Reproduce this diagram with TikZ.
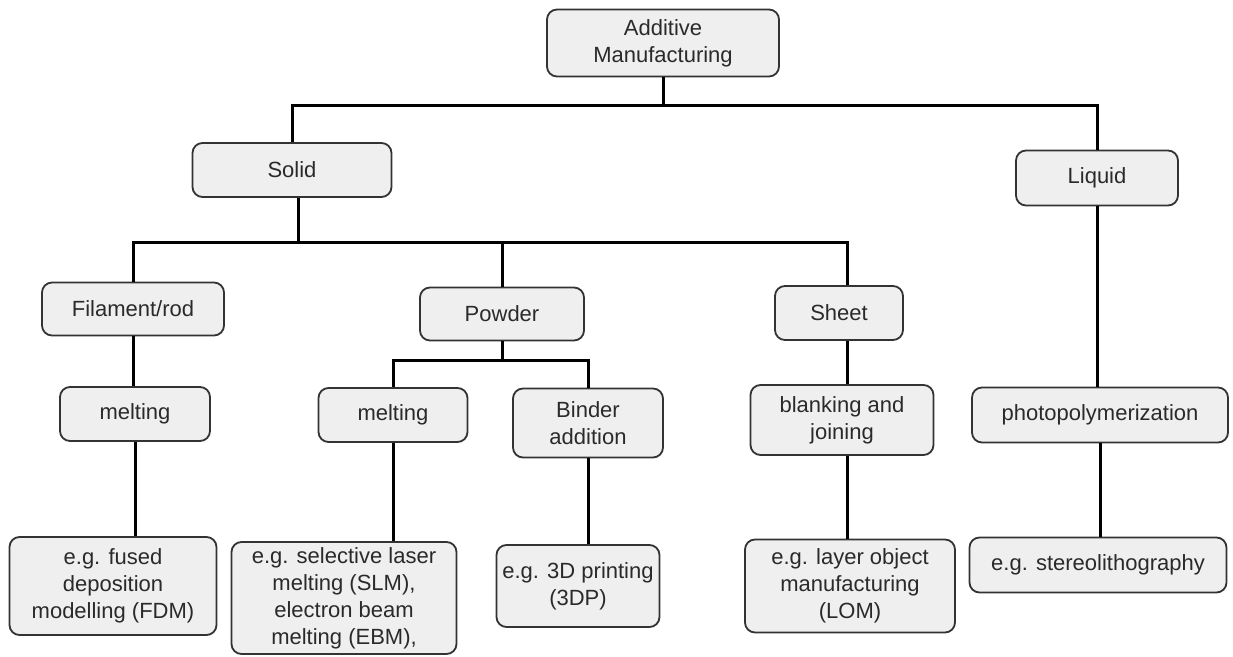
\documentclass[tikz,border=0pt]{standalone}
\usepackage{fontspec}
\setmainfont{Liberation Sans}
\definecolor{boxfill}{HTML}{EFEFEF}
\definecolor{boxline}{HTML}{333333}
\definecolor{txt}{HTML}{2A2A2A}
\begin{document}
\begin{tikzpicture}[x=1pt,y=-1pt,
  bx/.style={draw=boxline,fill=boxfill,line width=1.8pt,rounded corners=10pt,
    inner sep=0pt,align=center,text=txt,font=\fontsize{22}{27}\selectfont},
  con/.style={line width=3pt,black}]
\useasboundingbox (0,0) rectangle (1233,656);
\fill[white] (0,0) rectangle (1233,656);
% nodes
\node[bx,minimum width=232pt,minimum height=67pt] (am) at (663,43) {Additive\\Manufacturing};
\node[bx,minimum width=199pt,minimum height=54pt] (solid) at (292,170) {Solid};
\node[bx,minimum width=162pt,minimum height=55pt] (liquid) at (1097,178) {Liquid};
\node[bx,minimum width=182pt,minimum height=53pt] (fil) at (133,309) {Filament/rod};
\node[bx,minimum width=164pt,minimum height=53pt] (powder) at (502,314) {Powder};
\node[bx,minimum width=128pt,minimum height=54pt] (sheet) at (839,313) {Sheet};
\node[bx,minimum width=150pt,minimum height=54pt] (fmelt) at (135,414) {melting};
\node[bx,minimum width=149pt,minimum height=54pt] (pmelt) at (393,415) {melting};
\node[bx,minimum width=150pt,minimum height=69pt] (binder) at (588,423) {Binder\\addition};
\node[bx,minimum width=183pt,minimum height=70pt] (blank) at (842,420) {blanking and\\joining};
\node[bx,minimum width=256pt,minimum height=55pt] (photo) at (1100,415) {photopolymerization};
\node[bx,minimum width=207pt,minimum height=98pt] (fdm) at (113,586) {e.g. fused\\deposition\\modelling (FDM)};
\node[bx,minimum width=225pt,minimum height=112pt] (slm) at (344,598) {e.g. selective laser\\melting (SLM),\\electron beam\\melting (EBM),};
\node[bx,minimum width=163pt,minimum height=82pt] (tdp) at (578,586) {e.g. 3D printing\\(3DP)};
\node[bx,minimum width=210pt,minimum height=93pt] (lom) at (850,586) {e.g. layer object\\manufacturing\\(LOM)};
\node[bx,minimum width=257pt,minimum height=55pt] (stereo) at (1098,565) {e.g. stereolithography};
% junctions
\coordinate (t1) at (663,105);
\coordinate (t2) at (298,242);
\coordinate (t3) at (502,360);
\coordinate (sx) at (847,0);
% connectors
\draw[con] (am.south) -- (t1);
\draw[con] (solid.north) |- (t1) -| (liquid.north);
\draw[con] (t2 |- solid.south) -- (t2);
\draw[con] (fil.north) |- (t2) -| (sx |- sheet.north);
\draw[con] (powder.north) -- (powder.north |- t2);
\draw[con] (powder.south) -- (t3);
\draw[con] (pmelt.north) |- (t3) -| (binder.north);
\draw[con] (fil.south) -- (fmelt.north -| fil.south);
\draw[con] (sx |- sheet.south) -- (sx |- blank.north);
\draw[con] (liquid.south) -- (liquid.south |- photo.north);
\draw[con] (fmelt.south) -- (fmelt.south |- fdm.north);
\draw[con] (pmelt.south) -- (pmelt.south |- slm.north);
\draw[con] (binder.south) -- (binder.south |- tdp.north);
\draw[con] (sx |- blank.south) -- (sx |- lom.north);
\draw[con] (photo.south) -- (photo.south |- stereo.north);
\end{tikzpicture}
\end{document}
